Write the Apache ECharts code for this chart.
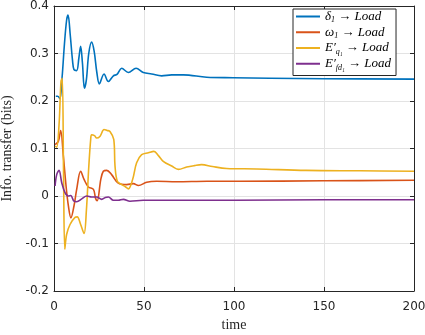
<!DOCTYPE html>
<html>
<head>
<meta charset="utf-8">
<script src="https://cdn.jsdelivr.net/npm/echarts@6/dist/echarts.min.js"></script>
<style>html,body{margin:0;padding:0;background:#fff}#c{width:425px;height:335px}</style>
</head>
<body>
<div id="c"></div>
<script>
// ---- data ----
var xTicks = [0, 50, 100, 150, 200];
var yTicks = [-0.2, -0.1, 0, 0.1, 0.2, 0.3, 0.4];

var deltaT = [1, 2, 3.3, 4.5, 5.8, 7, 7.8, 9, 10.3, 11.1, 12.6, 13.8, 14.8, 15.8, 16.9, 18, 19.3, 20.9, 22.3, 23.8, 25.2, 27.8, 30.2, 33, 35, 37.6, 41.3, 45.6, 49.6, 54.3, 59.8, 65.4, 71.9, 84.8, 99.6, 120, 150, 200];
var deltaV = [0.21, 0.21, 0.205, 0.25, 0.32, 0.37, 0.381, 0.34, 0.285, 0.266, 0.264, 0.29, 0.315, 0.28, 0.227, 0.245, 0.3, 0.324, 0.305, 0.26, 0.236, 0.257, 0.241, 0.253, 0.256, 0.269, 0.26, 0.269, 0.26, 0.257, 0.253, 0.255, 0.255, 0.25, 0.249, 0.248, 0.247, 0.246];

var omegaT = [0.6, 2.4, 3.7, 5.2, 6.7, 8, 9.4, 11.1, 12.6, 14.8, 16.7, 19.1, 21.9, 23.1, 24, 26, 27.4, 29.3, 32, 35.7, 40.4, 44.1, 46.9, 51.5, 57, 68, 85, 103, 150, 200];
var omegaV = [0.108, 0.115, 0.138, 0.084, 0.021, -0.021, -0.046, -0.021, 0.014, 0.052, 0.035, 0.019, 0.014, -0.005, -0.01, 0.035, 0.052, 0.054, 0.045, 0.027, 0.024, 0.026, 0.022, 0.029, 0.031, 0.030, 0.031, 0.031, 0.032, 0.033];

var eqT = [0.6, 1.5, 2.8, 3.9, 4.6, 5.3, 6, 7, 8.9, 11.7, 12.9, 14.8, 16.7, 18, 19.3, 20.4, 20.9, 22.5, 23.7, 25.6, 27.8, 29.5, 31.1, 33.2, 33.9, 35.2, 37.6, 39.5, 41.3, 43.7, 45.9, 48.7, 52.4, 55.5, 58, 60.7, 65.4, 69.1, 73.7, 78, 82, 88, 95.9, 112.6, 140, 170, 200];
var eqV = [0.105, 0.103, 0.15, 0.241, 0.248, 0.05, -0.112, -0.081, -0.06, -0.045, -0.044, -0.06, -0.079, -0.03, 0.06, 0.12, 0.129, 0.127, 0.122, 0.126, 0.14, 0.138, 0.136, 0.119, 0.063, 0.031, 0.024, 0.02, 0.015, 0.035, 0.07, 0.087, 0.091, 0.094, 0.085, 0.073, 0.063, 0.056, 0.061, 0.064, 0.066, 0.062, 0.058, 0.057, 0.054, 0.053, 0.052];

var efdT = [0.6, 1.5, 2.8, 4.3, 6.1, 8, 9.3, 11.1, 12.6, 15.4, 18.2, 20.9, 23.7, 26.5, 28.5, 30.2, 33, 35.7, 38.5, 42.2, 49.6, 70, 100, 150, 200];
var efdV = [0.021, 0.045, 0.054, 0.028, 0.007, 0.0, 0.001, -0.011, -0.012, -0.006, 0.0, -0.002, -0.002, -0.007, -0.003, -0.002, -0.009, -0.009, -0.007, -0.011, -0.009, -0.009, -0.009, -0.008, -0.008];

var seriesNames = ['delta', 'omega', 'eq', 'efd'];
var legendLabels = {
  delta: '{it|δ}{sub|1}{rm| → }{it|Load}',
  omega: '{it|ω}{sub|1}{rm| → }{it|Load}',
  eq: '{it|E′}{sub|q₁}{rm| → }{it|Load}',
  efd: '{it|E′}{sub|fd₁}{rm| → }{it|Load}'
};
var colors = ['#0072BD', '#D95319', '#EDB120', '#7E2F8E'];

function pairs(t, v) { return t.map(function (x, i) { return [x, v[i]]; }); }
var allData = [pairs(deltaT, deltaV), pairs(omegaT, omegaV), pairs(eqT, eqV), pairs(efdT, efdV)];

var axisColor = '#262626';
var gridColor = '#e3e3e3';
var fnt = 'DejaVu Sans';
var serif = 'Liberation Serif';

var chart = echarts.init(document.getElementById('c'), null, {renderer: 'canvas'});
var option = {
  animation: false,
  backgroundColor: '#ffffff',
  color: colors,
  grid: {left: 54, top: 6, width: 360, height: 285, containLabel: false, outerBoundsMode: 'none'},
  legend: {
    data: seriesNames,
    orient: 'vertical',
    left: 293, top: 9,
    backgroundColor: '#ffffff',
    borderColor: axisColor, borderWidth: 1, borderRadius: 0,
    padding: [1, 5, 4, 3],
    itemGap: 1.5,
    icon: 'rect',
    itemWidth: 24, itemHeight: 2,
    formatter: function (n) { return legendLabels[n]; },
    textStyle: {
      color: '#000',
      rich: {
        it: {fontFamily: serif, fontStyle: 'italic', fontSize: 13, lineHeight: 15.5},
        rm: {fontFamily: serif, fontSize: 13, lineHeight: 15.5},
        sub: {fontFamily: serif, fontStyle: 'italic', fontSize: 8, lineHeight: 15.5, verticalAlign: 'bottom'}
      }
    }
  },
  xAxis: [{
    type: 'value', min: 0, max: 200, interval: 50,
    name: 'time', nameLocation: 'middle', nameGap: 24,
    nameTextStyle: {fontFamily: serif, fontSize: 14, color: axisColor},
    axisLine: {show: true, onZero: false, lineStyle: {color: axisColor, width: 1}},
    axisTick: {show: true, inside: true, length: 4, lineStyle: {color: axisColor}},
    axisLabel: {fontFamily: fnt, fontSize: 12, color: axisColor, margin: 10},
    splitLine: {show: true, lineStyle: {color: gridColor, width: 1}}
  }, {
    type: 'value', min: 0, max: 200, interval: 50, position: 'top',
    axisLine: {show: true, onZero: false, lineStyle: {color: axisColor, width: 1}},
    axisTick: {show: true, inside: true, length: 4, lineStyle: {color: axisColor}},
    axisLabel: {show: false}, splitLine: {show: false}
  }],
  yAxis: [{
    type: 'value', min: -0.2, max: 0.4, interval: 0.1,
    name: 'Info. transfer (bits)', nameLocation: 'middle', nameGap: 30, nameRotate: 90,
    nameTextStyle: {fontFamily: serif, fontSize: 14, color: axisColor},
    axisLine: {show: true, onZero: false, lineStyle: {color: axisColor, width: 1}},
    axisTick: {show: true, inside: true, length: 4, lineStyle: {color: axisColor}},
    axisLabel: {fontFamily: fnt, fontSize: 12, color: axisColor, margin: 5,
      formatter: function (v) { var r = Math.round(v * 10) / 10; return r === 0 ? '0' : r.toFixed(1); }},
    splitLine: {show: true, lineStyle: {color: gridColor, width: 1}}
  }, {
    type: 'value', min: -0.2, max: 0.4, interval: 0.1, position: 'right',
    axisLine: {show: true, onZero: false, lineStyle: {color: axisColor, width: 1}},
    axisTick: {show: true, inside: true, length: 4, lineStyle: {color: axisColor}},
    axisLabel: {show: false}, splitLine: {show: false}
  }],
  series: seriesNames.map(function (n, i) {
    return {
      name: n, type: 'line', data: allData[i],
      xAxisIndex: 0, yAxisIndex: 0,
      symbol: 'none', smooth: 0.35,
      lineStyle: {width: 1.6, color: colors[i]},
      itemStyle: {color: colors[i]}
    };
  })
};
chart.setOption(option);
</script>
</body>
</html>
